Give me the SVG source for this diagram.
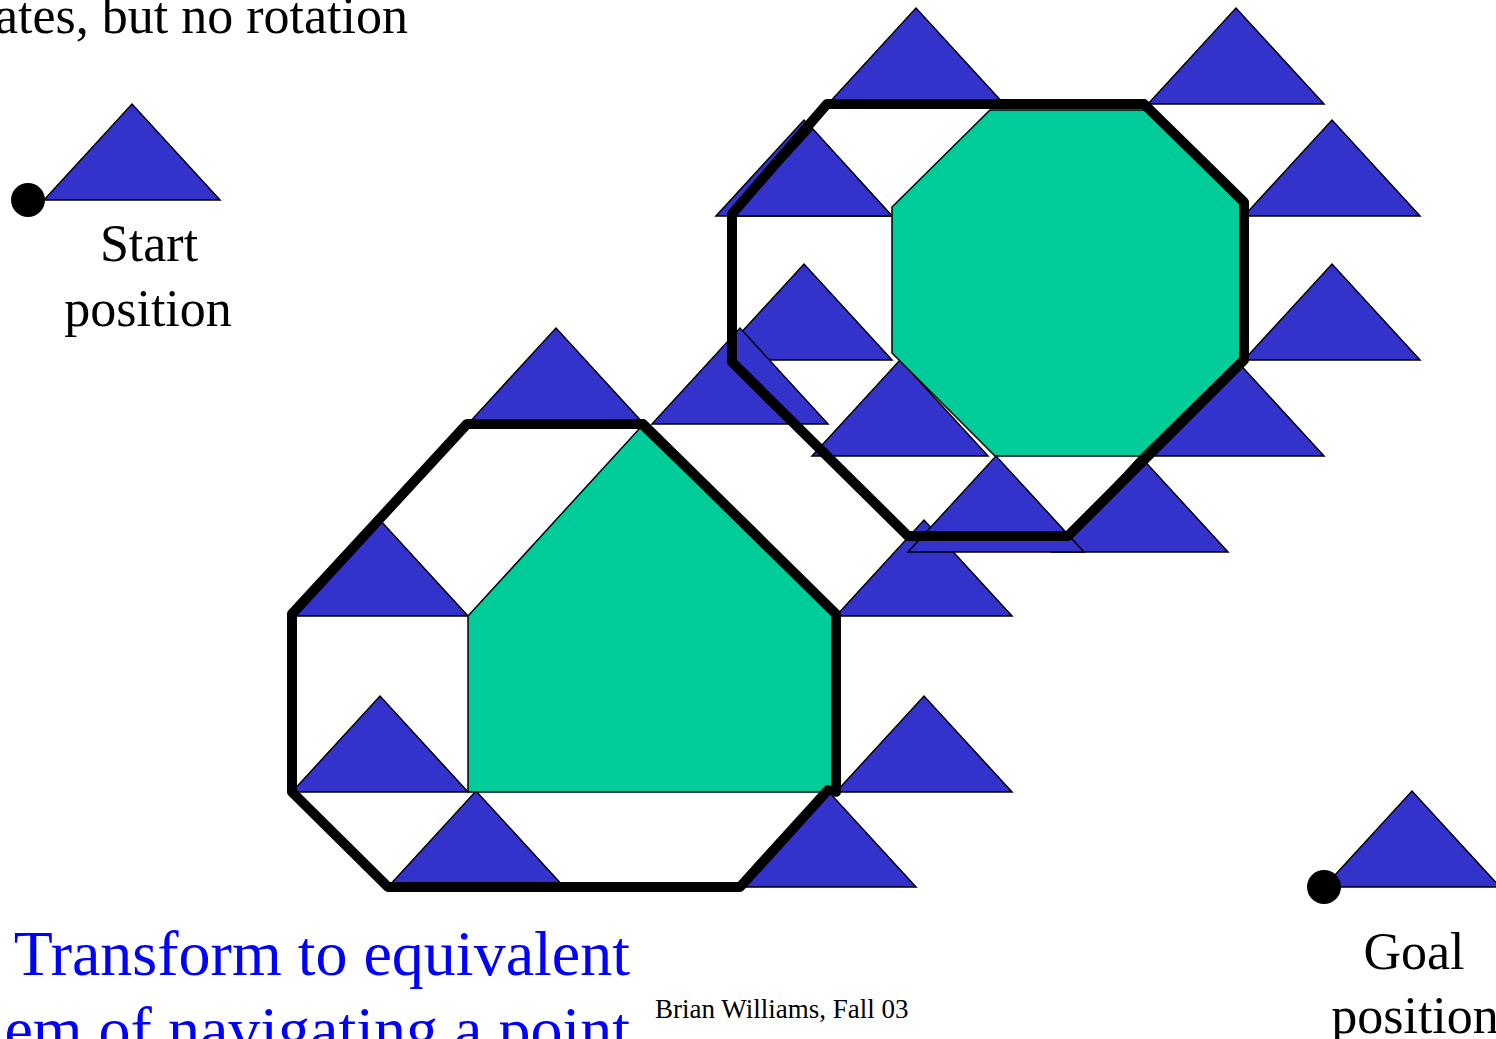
<svg xmlns="http://www.w3.org/2000/svg" xmlns:xlink="http://www.w3.org/1999/xlink" width="1496" height="1039" viewBox="0 0 1496 1039">
  <style>
    .tri { fill: #3333CC; stroke: #000000; stroke-width: 1.5; stroke-linejoin: miter; }
    .obst { fill: #00CC99; stroke: #000000; stroke-width: 1.5; }
    .cobst { fill: none; stroke: #000000; stroke-width: 10; stroke-linejoin: round; stroke-linecap: round; }
    .lbl { font-family: "Liberation Serif", "Times New Roman", serif; fill: #000000; }
    .blue { font-family: "Liberation Serif", "Times New Roman", serif; fill: #0000FF; font-size: 64px; }
    .dot { fill: #000000; }
  </style>
  <defs>
    <path id="robot" d="M0 0 L88 -96 L176 0 Z"/>
  </defs>
  <rect x="0" y="0" width="1496" height="1039" fill="#FFFFFF"/>

  <text class="lbl" x="408" y="33" font-size="52" text-anchor="end">ates, but no rotation</text>

  <g id="start">
    <use href="#robot" class="tri" x="44" y="200"/>
    <circle class="dot" cx="28" cy="200" r="17"/>
    <text class="lbl" x="149" y="261" font-size="52" text-anchor="middle">Start</text>
    <text class="lbl" x="148" y="326" font-size="52" text-anchor="middle">position</text>
  </g>

  <g id="goal">
    <use href="#robot" class="tri" x="1324" y="887"/>
    <circle class="dot" cx="1324" cy="887" r="17"/>
    <text class="lbl" x="1414" y="969" font-size="52" text-anchor="middle">Goal</text>
    <text class="lbl" x="1415" y="1033" font-size="52" text-anchor="middle">position</text>
  </g>

  <g id="upper-robots">
    <use href="#robot" class="tri" x="828" y="104"/>
    <use href="#robot" class="tri" x="1148" y="104"/>
    <use href="#robot" class="tri" x="716" y="216"/>
    <polygon class="tri" points="733,216 813,129 892,216"/>
    <use href="#robot" class="tri" x="1244" y="216"/>
    <use href="#robot" class="tri" x="716" y="360"/>
    <use href="#robot" class="tri" x="1244" y="360"/>
    <use href="#robot" class="tri" x="1148" y="456"/>
    <use href="#robot" class="tri" x="1052" y="552"/>
  </g>

  <g id="lower-robots">
    <use href="#robot" class="tri" x="468" y="424"/>
    <use href="#robot" class="tri" x="652" y="424"/>
    <use href="#robot" class="tri" x="292" y="616"/>
    <use href="#robot" class="tri" x="836" y="616"/>
    <use href="#robot" class="tri" x="292" y="792"/>
    <use href="#robot" class="tri" x="836" y="792"/>
    <use href="#robot" class="tri" x="388" y="887"/>
    <use href="#robot" class="tri" x="740" y="887"/>
  </g>

  <g id="upper-robots-2">
    <use href="#robot" class="tri" x="812" y="456"/>
    <use href="#robot" class="tri" x="908" y="552"/>
  </g>

  <g id="upper-obstacle">
    <polygon class="obst" points="990,110 1146,110 1240,204 1240,358 1140,456 995,456 892,353 892,207"/>
  </g>

  <g id="lower-obstacle">
    <polygon class="obst" points="468,616 640,428 834,616 834,792 468,792"/>
  </g>

  <g id="connectors">
    <polygon class="cobst" points="827,104 1144,104 1244,202 1244,360 1068,536 908,536 732,362 732,214"/>
    <path class="cobst" d="M836,792 L836,614 L643,424 L467,424 L292,614 L292,792 L388,887 L740,887 L828,790"/>
  </g>

  <text class="blue" x="630" y="975" text-anchor="end">Transform to equivalent</text>
  <text class="blue" x="630" y="1051" text-anchor="end">em of navigating a point</text>

  <text class="lbl" x="655" y="1018" font-size="27">Brian Williams, Fall 03</text>
</svg>
